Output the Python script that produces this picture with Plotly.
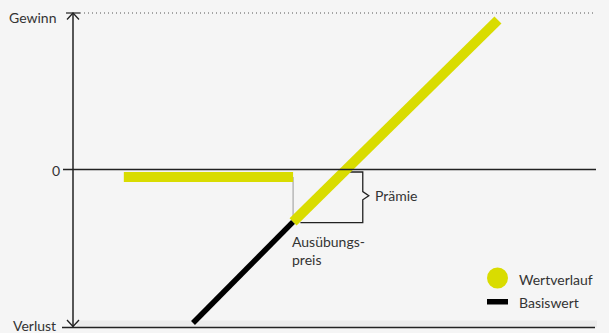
import plotly.graph_objects as go

# ---- data (profit diagram of a call option, conceptual units) ----
wert_flat_x = [9.7, 42.0]
wert_flat_y = [-4.8, -4.8]
wert_diag_x = [42.0, 81.1]
wert_diag_y = [-33.5, 95.5]
basis_x = [22.9, 42.0]
basis_y = [-98.1, -33.5]
y_tick_vals = [100, 0, -100]
y_tick_text = ["Gewinn", "0", "Verlust"]
legend_labels = ["Wertverlauf", "Basiswert"]

YELLOW = "#d9dc00"
TXT = "#333333"
BG = "#f5f5f5"
FONT = "Lato"
FS = 14

W, H = 609, 333
L, R, T, B = 73, 597, 13, 326

def px(p):
    return (p - L) / (R - L)

def py(p):
    return (B - p) / (B - T)

fig = go.Figure()

# thin gray strike guide
strike = wert_flat_x[1]
fig.add_shape(type="line", xref="x", yref="y", x0=strike, x1=strike,
              y0=wert_flat_y[1], y1=wert_diag_y[0],
              line=dict(color="#9a9a9a", width=1), layer="below")

fig.add_trace(go.Scatter(x=basis_x, y=basis_y, mode="lines",
                         line=dict(color="#000000", width=5.5),
                         showlegend=False, hoverinfo="skip"))
fig.add_trace(go.Scatter(x=wert_flat_x, y=wert_flat_y, mode="lines",
                         line=dict(color=YELLOW, width=10),
                         showlegend=False, hoverinfo="skip"))
fig.add_trace(go.Scatter(x=wert_diag_x, y=wert_diag_y, mode="lines",
                         line=dict(color=YELLOW, width=10),
                         showlegend=False, hoverinfo="skip"))

shapes = []
# bands
shapes.append(dict(type="rect", xref="paper", yref="paper", x0=px(77), x1=px(597),
                   y0=py(20.5), y1=py(13), fillcolor="#ebebeb", line=dict(width=0), layer="below"))
shapes.append(dict(type="rect", xref="paper", yref="paper", x0=px(77), x1=px(597),
                   y0=py(327.5), y1=py(320.5), fillcolor="#ebebeb", line=dict(width=0), layer="below"))
# dotted top line
shapes.append(dict(type="line", xref="paper", yref="paper", x0=px(80), x1=px(596),
                   y0=py(13), y1=py(13), line=dict(color="#555555", width=1, dash="1px,3px")))
# top tick
shapes.append(dict(type="line", xref="paper", yref="paper", x0=px(66), x1=px(80),
                   y0=py(13), y1=py(13), line=dict(color="#222222", width=1.2)))
# zero line
shapes.append(dict(type="line", xref="paper", yref="y", x0=px(63), x1=px(596),
                   y0=0, y1=0, line=dict(color="#222222", width=1.5)))
# bottom line
shapes.append(dict(type="line", xref="paper", yref="paper", x0=px(62), x1=px(595),
                   y0=py(327.5), y1=py(327.5), line=dict(color="#222222", width=1.5)))
# vertical axis with arrowheads
shapes.append(dict(type="line", xref="paper", yref="paper", x0=0, x1=0,
                   y0=py(13), y1=py(326.5), line=dict(color="#222222", width=1.5)))
shapes.append(dict(type="path", xref="paper", yref="paper",
                   path=f"M {px(67)} {py(19.5)} L {px(73)} {py(13)} L {px(79)} {py(19.5)}",
                   line=dict(color="#222222", width=1.3)))
shapes.append(dict(type="path", xref="paper", yref="paper",
                   path=f"M {px(67)} {py(320)} L {px(73)} {py(326.5)} L {px(79)} {py(320)}",
                   line=dict(color="#222222", width=1.3)))

# bracket (Prämie) in data coords
bx = 55.3
top_y = wert_flat_y[0] + 3.2
bot_y = wert_diag_y[0] - 0.4
mid_y = (top_y + bot_y) / 2 + 1.0
shapes.append(dict(type="path", xref="x", yref="y",
                   path=(f"M 51.6 {top_y} L {bx} {top_y} L {bx} {mid_y + 2.6} "
                         f"L {bx + 1.15} {mid_y} L {bx} {mid_y - 2.6} L {bx} {bot_y} L 43.4 {bot_y}"),
                   line=dict(color="#222222", width=1.3), layer="below"))

# legend symbols
shapes.append(dict(type="circle", xref="paper", yref="paper", x0=px(487), x1=px(508),
                   y0=py(288.5), y1=py(267.5), fillcolor=YELLOW, line=dict(width=0)))
shapes.append(dict(type="rect", xref="paper", yref="paper", x0=px(487), x1=px(508),
                   y0=py(304.5), y1=py(299), fillcolor="#000000", line=dict(width=0)))

annotations = []
label_px = [17.5, 170, 325.5]
label_right = [57.5, 62, 57.5]
for txt, yp, xr in zip(y_tick_text, label_px, label_right):
    annotations.append(dict(text=txt, xref="paper", yref="paper", x=px(xr), y=py(yp),
                            xanchor="right", yanchor="middle", showarrow=False,
                            font=dict(family=FONT, size=FS, color=TXT)))
annotations.append(dict(text="Prämie", xref="paper", yref="paper", x=px(373), y=py(196),
                        xanchor="left", yanchor="middle", showarrow=False,
                        font=dict(family=FONT, size=FS, color=TXT)))
annotations.append(dict(text="Ausübungs-<br>preis", xref="paper", yref="paper", x=px(290),
                        y=py(231), xanchor="left", yanchor="top", align="left", showarrow=False,
                        font=dict(family=FONT, size=FS, color=TXT)))
for txt, yp in zip(legend_labels, [279, 302]):
    annotations.append(dict(text=txt, xref="paper", yref="paper", x=px(517), y=py(yp),
                            xanchor="left", yanchor="middle", showarrow=False,
                            font=dict(family=FONT, size=FS, color=TXT)))

fig.update_layout(
    width=W, height=H,
    margin=dict(l=L, r=W - R, t=T, b=H - B, pad=0),
    paper_bgcolor=BG, plot_bgcolor=BG,
    xaxis=dict(range=[0, 100], visible=False, fixedrange=True),
    yaxis=dict(range=[-100, 100], visible=False, fixedrange=True),
    shapes=shapes, annotations=annotations, showlegend=False,
)

fig.write_html("out.html", config={"displayModeBar": False},
               post_script="document.body.style.margin='0';document.body.style.overflow='hidden';")
